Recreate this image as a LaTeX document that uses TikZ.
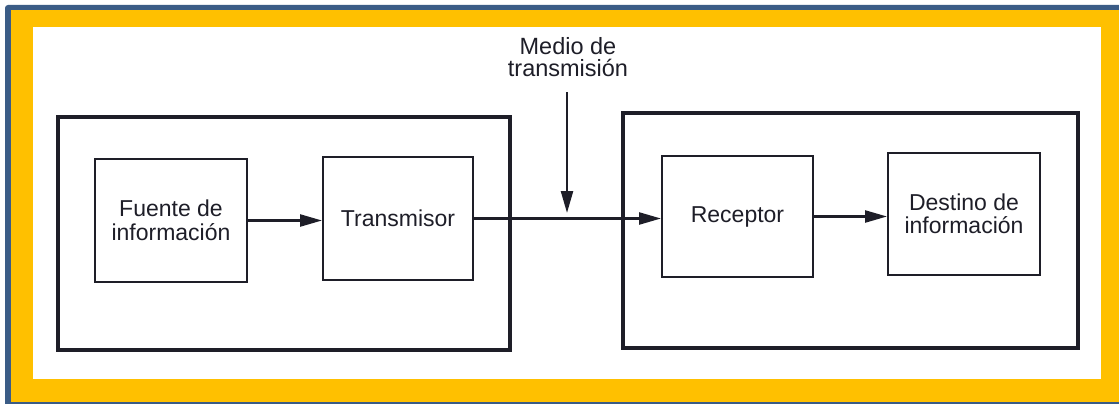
\documentclass[tikz,border=0pt]{standalone}
\usepackage{fontspec}
\setmainfont{Liberation Sans}
\usetikzlibrary{arrows.meta}
\definecolor{frameblue}{HTML}{3B5C86}
\definecolor{frameorange}{HTML}{FFC000}
\definecolor{inkc}{HTML}{1E1E28}
\tikzset{
  outerbox/.style={draw=inkc, line width=3.6pt, inner sep=0pt},
  blockbox/.style={draw=inkc, line width=2pt, align=center, inner sep=0pt,
    font=\fontsize{23}{23.5}\selectfont, text=inkc},
  lbl/.style={align=center, inner sep=0pt, font=\fontsize{23.5}{22}\selectfont, text=inkc},
  arr/.style={draw=inkc, line width=2.4pt, -{Triangle[length=22pt,width=12pt]}}
}
\begin{document}
\begin{tikzpicture}[x=1pt,y=-1pt]
\useasboundingbox (0,0) rectangle (1119,404);
\fill[white] (0,0) rectangle (1119,404);
\fill[frameblue, rounded corners=3pt] (5,5) rectangle (1130,410);
\fill[frameorange] (11,10) rectangle (1119,401.5);
\fill[white] (33,27) rectangle (1101,379);
% outer boxes
\node[outerbox, minimum width=452, minimum height=233] (left) at (284,233.5) {};
\node[outerbox, minimum width=455, minimum height=235] (right) at (850.5,230.5) {};
% blocks
\node[blockbox, minimum width=152, minimum height=123] (f) at (171,220.5) {Fuente de\\información};
\node[blockbox, minimum width=150, minimum height=123] (t) at (398,218.5) {Transmisor};
\node[blockbox, minimum width=151, minimum height=121] (r) at (737.5,216.5) {Receptor};
\node[blockbox, minimum width=152, minimum height=122] (d) at (964,214) {Destino de\\información};
% medium label
\node[lbl] (m) at (568,57) {Medio de\\transmisión};
\coordinate (mtop) at (567,92);
\coordinate (mbot) at (567,213);
% connectors
\draw[arr] (f.east) -- (f.east -| t.west);
\draw[arr] (t.east) -- (t.east -| r.west);
\draw[arr] (r.east) -- (r.east -| d.west);
\draw[arr] (mtop) -- (mbot);
\end{tikzpicture}
\end{document}
